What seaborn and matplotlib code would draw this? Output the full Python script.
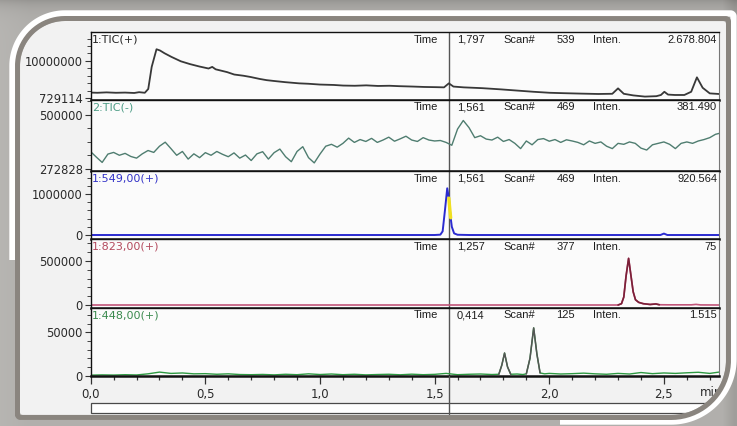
import numpy as np
import matplotlib
matplotlib.use("Agg")
import matplotlib.pyplot as plt
import matplotlib.transforms as mtransforms
from matplotlib.path import Path
from matplotlib.patches import PathPatch, Rectangle
from matplotlib.ticker import FixedLocator, FuncFormatter, MultipleLocator
import seaborn as sns

# ---------------- chromatogram traces (time in min, intensity in counts) ----------------
# 1:TIC(+)
tic_pos_time = [0.000, 0.029, 0.069, 0.110, 0.150, 0.190, 0.211, 0.236, 0.251, 0.266,
                0.287, 0.302, 0.322, 0.352, 0.393, 0.433, 0.474, 0.514, 0.530, 0.545,
                0.595, 0.626, 0.666, 0.696, 0.737, 0.767, 0.798, 0.848, 0.909, 0.949,
                1.000, 1.060, 1.101, 1.152, 1.202, 1.253, 1.303, 1.344, 1.405, 1.455,
                1.506, 1.541, 1.562, 1.582, 1.627, 1.708, 1.789, 1.860, 1.931, 2.002,
                2.062, 2.133, 2.214, 2.275, 2.300, 2.325, 2.366, 2.417, 2.467, 2.487,
                2.502, 2.518, 2.548, 2.589, 2.619, 2.644, 2.669, 2.700, 2.740]
tic_pos_int = [2.10e6, 2.05e6, 2.15e6, 2.05e6, 2.10e6, 2.00e6, 2.20e6, 2.05e6, 3.0e6, 8.5e6,
               12.9e6, 12.6e6, 11.9e6, 11.0e6, 9.9e6, 9.2e6, 8.6e6, 8.1e6, 8.5e6, 7.9e6,
               7.2e6, 6.6e6, 6.3e6, 6.0e6, 5.5e6, 5.2e6, 5.0e6, 4.7e6, 4.4e6, 4.3e6,
               4.1e6, 4.0e6, 3.85e6, 3.8e6, 3.9e6, 3.75e6, 3.8e6, 3.7e6, 3.6e6, 3.5e6,
               3.45e6, 3.4e6, 4.4e6, 3.6e6, 3.4e6, 3.2e6, 2.9e6, 2.6e6, 2.3e6, 2.05e6,
               1.95e6, 1.85e6, 1.75e6, 1.8e6, 3.15e6, 1.8e6, 1.4e6, 1.1e6, 1.2e6, 1.5e6,
               2.3e6, 1.6e6, 1.5e6, 1.5e6, 2.3e6, 5.9e6, 3.3e6, 1.9e6, 1.75e6]

# 2:TIC(-)
tic_neg_time = [0.000, 0.025, 0.050, 0.075, 0.100, 0.125, 0.150, 0.175, 0.200, 0.225,
                0.250, 0.275, 0.300, 0.325, 0.350, 0.375, 0.400, 0.425, 0.450, 0.475,
                0.500, 0.525, 0.550, 0.575, 0.600, 0.625, 0.650, 0.675, 0.700, 0.725,
                0.750, 0.775, 0.800, 0.825, 0.850, 0.875, 0.900, 0.925, 0.950, 0.975,
                1.000, 1.025, 1.050, 1.075, 1.100, 1.125, 1.150, 1.175, 1.200, 1.225,
                1.250, 1.275, 1.300, 1.325, 1.350, 1.375, 1.400, 1.425, 1.450, 1.475,
                1.500, 1.525, 1.550, 1.575, 1.600, 1.625, 1.650, 1.675, 1.700, 1.725,
                1.750, 1.775, 1.800, 1.825, 1.850, 1.875, 1.900, 1.925, 1.950, 1.975,
                2.000, 2.025, 2.050, 2.075, 2.100, 2.125, 2.150, 2.175, 2.200, 2.225,
                2.250, 2.275, 2.300, 2.325, 2.350, 2.375, 2.400, 2.425, 2.450, 2.475,
                2.500, 2.525, 2.550, 2.575, 2.600, 2.625, 2.650, 2.675, 2.700, 2.725,
                2.750]
tic_neg_int = [345e3, 322e3, 300e3, 335e3, 342e3, 330e3, 338e3, 325e3, 318e3, 336e3,
               350e3, 342e3, 368e3, 385e3, 358e3, 330e3, 346e3, 314e3, 336e3, 320e3,
               341e3, 330e3, 346e3, 334e3, 324e3, 340e3, 318e3, 331e3, 308e3, 336e3,
               345e3, 314e3, 341e3, 356e3, 324e3, 303e3, 346e3, 366e3, 320e3, 298e3,
               335e3, 368e3, 376e3, 364e3, 380e3, 402e3, 384e3, 396e3, 388e3, 401e3,
               384e3, 394e3, 406e3, 389e3, 399e3, 410e3, 394e3, 388e3, 404e3, 394e3,
               390e3, 392e3, 384e3, 372e3, 440e3, 476e3, 446e3, 404e3, 412e3, 398e3,
               394e3, 406e3, 388e3, 396e3, 380e3, 358e3, 390e3, 374e3, 396e3, 400e3,
               389e3, 396e3, 384e3, 395e3, 390e3, 384e3, 374e3, 390e3, 380e3, 386e3,
               368e3, 358e3, 380e3, 376e3, 386e3, 380e3, 360e3, 352e3, 374e3, 380e3,
               386e3, 376e3, 358e3, 380e3, 386e3, 380e3, 390e3, 396e3, 404e3, 418e3,
               424e3]

# 1:549,00(+)
mz549_time = [0.000, 0.500, 1.000, 1.500, 1.525, 1.535, 1.545, 1.555, 1.562, 1.566,
              1.570, 1.575, 1.585, 1.600, 1.650, 2.000, 2.485, 2.500, 2.515, 2.740]
mz549_int = [0, 0, 0, 0, 8e3, 90e3, 600e3, 1140e3, 900e3, 650e3,
             420e3, 200e3, 40e3, 6e3, 0, 0, 0, 35e3, 0, 0]

# 1:823,00(+)
mz823_time = [0.000, 1.000, 2.000, 2.300, 2.315, 2.325, 2.335, 2.346, 2.356, 2.366,
              2.376, 2.390, 2.410, 2.440, 2.465, 2.480, 2.520, 2.620, 2.640, 2.660, 2.740]
mz823_int = [0, 0, 0, 0, 15e3, 90e3, 330e3, 530e3, 340e3, 150e3,
             60e3, 30e3, 15e3, 6e3, 12e3, 3e3, 2e3, 2e3, 7e3, 1e3, 0]

# 1:448,00(+)
mz448_time = [0.00, 0.05, 0.10, 0.15, 0.20, 0.25, 0.30, 0.35, 0.40, 0.45,
              0.50, 0.55, 0.60, 0.65, 0.70, 0.75, 0.80, 0.85, 0.90, 0.95,
              1.00, 1.05, 1.10, 1.15, 1.20, 1.25, 1.30, 1.35, 1.40, 1.45,
              1.50, 1.55, 1.60, 1.65, 1.70, 1.75, 1.780, 1.793, 1.805, 1.818,
              1.832, 1.860, 1.885, 1.900, 1.916, 1.932, 1.946, 1.960, 1.980, 2.00,
              2.05, 2.10, 2.15, 2.20, 2.25, 2.30, 2.35, 2.40, 2.45, 2.50,
              2.55, 2.60, 2.65, 2.70, 2.74]
mz448_int = [500, 800, 600, 1000, 700, 2000, 4000, 2500, 3000, 2000,
             2200, 1500, 2000, 1200, 1000, 1300, 800, 1500, 1000, 2000,
             1200, 1800, 1000, 1500, 800, 1200, 1500, 900, 1600, 1000,
             1400, 2500, 1000, 1500, 1800, 1200, 1500, 12000, 26000, 10000,
             1500, 1800, 1200, 2000, 20000, 55000, 25000, 3000, 2000, 2500,
             1800, 2200, 2800, 2000, 1500, 2500, 1800, 3500, 2200, 3000,
             2500, 3200, 3800, 2500, 4000]

# Per-panel labels and read-outs
trace_names = ["1:TIC(+)", "2:TIC(-)", "1:549,00(+)", "1:823,00(+)", "1:448,00(+)"]
readout_time = ["1,797", "1,561", "1,561", "1,257", "0,414"]
readout_scan = ["539", "469", "469", "377", "125"]
readout_inten = ["2.678.804", "381.490", "920.564", "75", "1.515"]
y_major_ticks = [[729114, 10000000], [272828, 500000], [0, 1000000], [0, 500000], [0, 50000]]
cursor_time = 1.561

# ---------------- styling ----------------
sns.set_theme(style="white")
plt.rcParams["font.family"] = ["DejaVu Sans"]

W, H, DPI = 737, 426, 100
AX_L, AX_R = 90.7, 718.7
panel_px = [(32, 100), (100, 171), (171, 239), (239, 308), (308, 376)]
ylims = [(250000, 17200000), (264000, 562000), (-97500, 1561000), (-34000, 750000), (-500, 78000)]
minor_steps = [(10000000 - 729114) / 5, (500000 - 272828) / 4, 200000, 100000, 10000]
line_colors = ["#383838", "#4f7d70", "#2b2bd0", "#c2567a", "#2e9a42"]
label_colors = ["#222222", "#4d9c86", "#3434c8", "#b34a5e", "#3a8a4e"]
line_widths = [1.3, 1.0, 1.4, 1.2, 1.0]
X_MIN, X_MAX = 0.0, 2.739

fig = plt.figure(figsize=(W / DPI, H / DPI), dpi=DPI, facecolor="#f2f2f2")

series = [(tic_pos_time, tic_pos_int), (tic_neg_time, tic_neg_int),
          (mz549_time, mz549_int), (mz823_time, mz823_int), (mz448_time, mz448_int)]

axes = []
for i, ((top, bottom), (t, v)) in enumerate(zip(panel_px, series)):
    ax = fig.add_axes([AX_L / W, 1 - bottom / H, (AX_R - AX_L) / W, (bottom - top) / H])
    ax.set_facecolor("#fbfbfb")
    sns.lineplot(x=t, y=v, ax=ax, color=line_colors[i], linewidth=line_widths[i],
                 estimator=None, sort=False)
    ax.set_xlim(X_MIN, X_MAX)
    ax.set_ylim(*ylims[i])
    ax.set_xlabel("")
    ax.set_ylabel("")

    # y axis: labelled ticks plus evenly spaced minor ticks
    lo, hi = ylims[i]
    base = y_major_ticks[i][0]
    step = minor_steps[i]
    k0 = int(np.ceil((lo - base) / step))
    k1 = int(np.floor((hi - base) / step))
    ax.yaxis.set_major_locator(FixedLocator(y_major_ticks[i]))
    ax.yaxis.set_minor_locator(FixedLocator([base + k * step for k in range(k0, k1 + 1)]))
    ax.yaxis.set_major_formatter(FuncFormatter(lambda val, pos: f"{val:.0f}"))
    ax.tick_params(axis="y", which="major", left=True, direction="out", length=4.5,
                   width=0.8, color="#333333", labelsize=8.3, labelcolor="#2a2a2a", pad=1.2)
    ax.tick_params(axis="y", which="minor", left=True, direction="out", length=2.8,
                   width=0.7, color="#444444")

    for side in ("top", "left"):
        ax.spines[side].set_color("#111111")
        ax.spines[side].set_linewidth(1.0)
    ax.spines["right"].set_color("#777777")
    ax.spines["right"].set_linewidth(0.8)
    ax.spines["bottom"].set_color("#111111")
    ax.spines["bottom"].set_linewidth(1.8)

    # cursor marker inside each panel
    ax.axvline(cursor_time, color="#555555", linewidth=1.0, zorder=1)

    # trace name top-left
    ax.annotate(trace_names[i], xy=(0, 1), xycoords="axes fraction", xytext=(1.0, -5.2),
                textcoords="offset points", ha="left", va="center", fontsize=8,
                color=label_colors[i], family=["DejaVu Sans"])

    # cursor read-out row
    hdr = dict(textcoords="offset points", va="center", fontsize=8, color="#1e1e1e",
               family=["Liberation Sans", "DejaVu Sans"])
    blend = mtransforms.blended_transform_factory(ax.transData, ax.transAxes)
    ax.annotate("Time", xy=(cursor_time, 1), xycoords=blend, xytext=(-7.5, -5.4), ha="right", **hdr)
    ax.annotate(readout_time[i], xy=(cursor_time, 1), xycoords=blend, xytext=(6, -5.4), ha="left", **hdr)
    ax.annotate("Scan#", xy=(cursor_time, 1), xycoords=blend, xytext=(39.5, -5.4), ha="left", **hdr)
    ax.annotate(readout_scan[i], xy=(cursor_time, 1), xycoords=blend, xytext=(91, -5.4), ha="right", **hdr)
    ax.annotate("Inten.", xy=(cursor_time, 1), xycoords=blend, xytext=(104, -5.4), ha="left", **hdr)
    ax.annotate(readout_inten[i], xy=(1, 1), xycoords="axes fraction", xytext=(-1.2, -5.4),
                ha="right", **hdr)

    if i < 4:
        ax.tick_params(axis="x", which="both", bottom=False, labelbottom=False)
    axes.append(ax)

# integrated peaks drawn darker
t823 = np.array(mz823_time); v823 = np.array(mz823_int)
sel = (t823 >= 2.30) & (t823 <= 2.48)
sns.lineplot(x=t823[sel], y=v823[sel], ax=axes[3], color="#7a2038", linewidth=1.2,
             estimator=None, sort=False)
t448 = np.array(mz448_time); v448 = np.array(mz448_int)
for a, b in [(1.780, 1.832), (1.900, 1.960)]:
    sel = (t448 >= a) & (t448 <= b)
    sns.lineplot(x=t448[sel], y=v448[sel], ax=axes[4], color="#555555", linewidth=1.1,
                 estimator=None, sort=False)

# cursor crossing highlighted on the 549 trace
t549 = np.array(mz549_time); v549 = np.array(mz549_int)
sel = (t549 >= 1.562) & (t549 <= 1.570)
axes[2].plot(t549[sel], v549[sel], color="#f0e020", linewidth=2.4, zorder=5)

# time axis on the last panel
ax5 = axes[4]
ax5.xaxis.set_major_locator(MultipleLocator(0.5))
ax5.xaxis.set_minor_locator(MultipleLocator(0.1))
ax5.xaxis.set_major_formatter(FuncFormatter(lambda val, pos: f"{val:.1f}".replace(".", ",")))
ax5.tick_params(axis="x", which="major", bottom=True, direction="out", length=6, width=0.9,
                color="#333333", labelsize=8.5, labelcolor="#2a2a2a", pad=2.5)
ax5.tick_params(axis="x", which="minor", bottom=True, direction="out", length=3, width=0.9,
                color="#333333")

# ---------------- window frame overlay (pixel coordinates) ----------------
ov = fig.add_axes([0, 0, 1, 1], zorder=20)
ov.set_xlim(0, W)
ov.set_ylim(H, 0)
ov.axis("off")
ov.patch.set_alpha(0)


def frame_points(x0, y0, x1, y1, r_tl, r_br, r_s=3.0, left_start=None, bottom_end=None, n=40):
    pts = [(x0, y1 - r_s if left_start is None else left_start)]
    for cx, cy, r, a0, a1 in [(x0 + r_tl, y0 + r_tl, r_tl, 180, 270),
                              (x1 - r_s, y0 + r_s, r_s, 270, 360),
                              (x1 - r_br, y1 - r_br, r_br, 0, 90)]:
        for a in np.radians(np.linspace(a0, a1, n)):
            pts.append((cx + r * np.cos(a), cy + r * np.sin(a)))
    if bottom_end is not None:
        pts.append((bottom_end, y1))
    else:
        for a in np.radians(np.linspace(90, 180, n)):
            pts.append((x0 + r_s + r_s * np.cos(a), y1 - r_s + r_s * np.sin(a)))
    return pts


# scroll bar and cursor tail below the plots
ov.add_patch(Rectangle((AX_L, 403), 660, 10, facecolor="white", edgecolor="#4a4a4a",
                       linewidth=0.9, zorder=1))
cur_tr = mtransforms.blended_transform_factory(ax5.transData, ov.transData)
ov.plot([cursor_time, cursor_time], [376, 413.5], transform=cur_tr, color="#555555",
        linewidth=1.0, zorder=2)
ov.text(700, 392.5, "min", ha="left", va="center", fontsize=8.5, color="#2a2a2a", zorder=2)

# outside of the window: shaded backdrop with a hole for the content
content = (20, 21, 726, 415, 45, 55)
inner = frame_points(*content)
outer = [(-5, -5), (W + 5, -5), (W + 5, H + 5), (-5, H + 5)]
verts = outer + [outer[0]] + inner[::-1] + [inner[-1]]
codes = ([Path.MOVETO] + [Path.LINETO] * 3 + [Path.CLOSEPOLY]
         + [Path.MOVETO] + [Path.LINETO] * (len(inner) - 1) + [Path.CLOSEPOLY])
mask = PathPatch(Path(verts, codes), facecolor="none", edgecolor="none", zorder=3)
ov.add_patch(mask)

yy, xx = np.mgrid[0:H, 0:W].astype(float)
g = 0.69 - 0.10 * np.exp(-yy / 8.0) - 0.07 * np.clip((xx - 722) / 12.0, 0, 1) \
    + 0.02 * np.clip((30 - xx) / 30.0, 0, 1)
rgb = np.dstack([g + 0.006, g, g - 0.012]).clip(0, 1)
img = ov.imshow(rgb, extent=(0, W, H, 0), aspect="auto", zorder=3, interpolation="bilinear")
img.set_clip_path(mask)
ov.set_xlim(0, W)
ov.set_ylim(H, 0)

# white bevel and grey rim of the window
wb = frame_points(12.5, 13.5, 733.5, 421.5, 52.5, 62.5, left_start=260, bottom_end=560)
ov.plot([p[0] for p in wb], [p[1] for p in wb], color="white", linewidth=4.6,
        solid_capstyle="butt", zorder=4)
rim = frame_points(17.5, 18.5, 728.5, 417.5, 47.5, 57.5)
rim = rim + [rim[0]]
ov.plot([p[0] for p in rim], [p[1] for p in rim], color="#8a857f", linewidth=3.6, zorder=5)

fig.savefig("out.png", dpi=DPI, facecolor=fig.get_facecolor())
